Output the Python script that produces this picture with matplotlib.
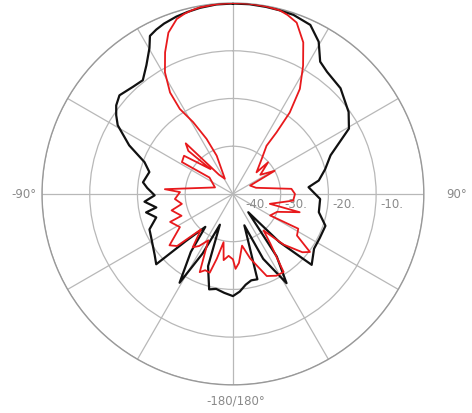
import numpy as np
import matplotlib.pyplot as plt
from matplotlib.transforms import offset_copy

# ------------------------------
# Datos (angulo en grados, nivel en dB)
# ------------------------------

# curva negra
ang_negro = [0, -5, -10, -14, -17.7, -22, -25, -27.7, -29.8, -33.9, -38.4, -43, -49, -52.8, -56,
             -59.2, -64.9, -70.2, -75.3, -82.6, -86, -91, -95, -100, -102, -107,
             -113, -118, -123, -128, -132.5, -135, -140, -144, -149, -153, -157,
             -161, -166, -170, -175, -180, 176, 172, 168, 164, 160, 155, 149, 145,
             140, 136, 132, 124, 117, 109, 102, 93.3, 84.9, 81.1, 75, 68.4, 60.6,
             54.7, 45.5, 37.6, 33.4, 29.4, 24.6, 18.7, 14, 10, 5, 0]
db_negro = [-0.1, -0.15, -0.4, -0.7, -1.0, -1.5, -2.0, -2.6, -4.8, -7.5, -9.6, -9.3, -8.5, -9.3, -10.5,
            -11.9, -16.0, -20.3, -21.9, -21.0, -22, -23.6, -21.4, -23.7, -21.4, -23.2,
            -21.0, -20.6, -20.0, -19.2, -18.2, -26, -31, -25, -18.3, -26, -33,
            -24, -19.4, -19.8, -19.2, -18.6, -19.5, -20.8, -21.5, -21.4, -33, -25, -18.2, -24,
            -35, -26, -17.8, -19.5, -19.6, -19.5, -21.6, -21.7, -24.1, -21.8, -20, -18.0, -12.1,
            -10.3, -8.4, -7.7, -6.8, -3.4, -1.05, -0.4, -0.3, -0.2, -0.1, -0.1]

# curva roja
ang_rojo = [0, -5, -10, -12.5, -15, -17.8, -21.8, -25.6, -29.2, -31.8, -32, -29, -25.6, -23,
            -28, -36, -43, -46, -42, -52, -58, -55, -70, -86, -88, -95, -101, -105,
            -113, -114, -122, -129, -133, -138, -143, -147, -152, -157, -160, -163.6,
            -166, -169, -172, -176, -180, 178, 175, 170, 165, 160, 157.6, 152, 147,
            143, 140, 135, 130, 127, 123, 118, 120, 112, 105.3, 105, 96.3, 90, 85, 75,
            64, 61, 55, 48, 47.5, 39.4, 34.9, 35.3, 34.9, 32.5, 28.7, 24.9, 20.4, 17, 14.3,
            10, 5, 0]
db_rojo = [0, -0.1, -0.3, -0.55, -0.9, -1.5, -3.6, -7.1, -10.8, -15.0, -19.0, -22.8, -27.2, -31.3,
           -36.4, -35, -25.5, -27, -33, -27, -27.4, -34, -36, -25.7, -28.9, -27.8, -29.1, -26.7,
           -28.3, -25.6, -26.9, -22.9, -24, -30, -26, -27, -29, -22.2, -23, -22.8,
           -26, -29.7, -26, -27, -26.3, -24.3, -25.5, -29, -26, -23.2, -21.4, -20.6, -20.5,
           -27, -30, -25, -21, -19.8, -24, -24.5, -31, -30, -25.5, -32, -27.3, -27, -27.7, -35,
           -36, -30, -33, -30.1, -33.3, -30.5, -27.7, -24.2, -19.2, -13.9, -9.4, -5, -1.7, -0.8, -0.3,
           -0.1, 0, 0]

anillos = [-30, -20, -10, 0]
etiquetas_r = ['-40.', '-30.', '-20.', '-10.']

# ------------------------------
# Figura
# ------------------------------

fig = plt.figure(figsize=(4.72, 4.14), dpi=100)

ax = fig.add_axes([0.089, 0.0676, 0.809, 0.923], projection='polar')
ax.set_theta_zero_location('N')
ax.set_theta_direction(-1)
ax.set_ylim(-40, 0)

ax.set_thetagrids(np.arange(0, 360, 30), labels=[''] * 12)
ax.set_rgrids(anillos, labels=[''] * len(anillos))
ax.grid(True, color='#b8b8b8', linewidth=0.9)
ax.spines['polar'].set_color('#999999')
ax.spines['polar'].set_linewidth(1.0)
ax.tick_params(length=0)

ax.plot(np.deg2rad(ang_negro), db_negro, color='#111111', linewidth=1.6, zorder=3)
ax.plot(np.deg2rad(ang_rojo), db_rojo, color='#e8191c', linewidth=1.3, zorder=4)

# etiquetas radiales
trans = offset_copy(ax.transData, fig=fig, x=2, y=-3, units='dots')
pos_r = [-37.8, -29.6, -19.6, -9.6]
for r, t in zip(pos_r, etiquetas_r):
    ax.text(np.pi / 2, r, t, transform=trans, ha='left', va='top',
            fontsize=8.5, color='#8a8a8a', zorder=2)

# etiquetas angulares
fig.text(24 / 472, 1 - 195 / 414, '-90°', ha='center', va='center', fontsize=8.5, color='#8a8a8a')
fig.text(457 / 472, 1 - 195 / 414, '90°', ha='center', va='center', fontsize=8.5, color='#8a8a8a')
fig.text(236 / 472, 1 - 401 / 414, '-180/180°', ha='center', va='center', fontsize=8.5, color='#8a8a8a')

fig.savefig('out.png', dpi=100)
